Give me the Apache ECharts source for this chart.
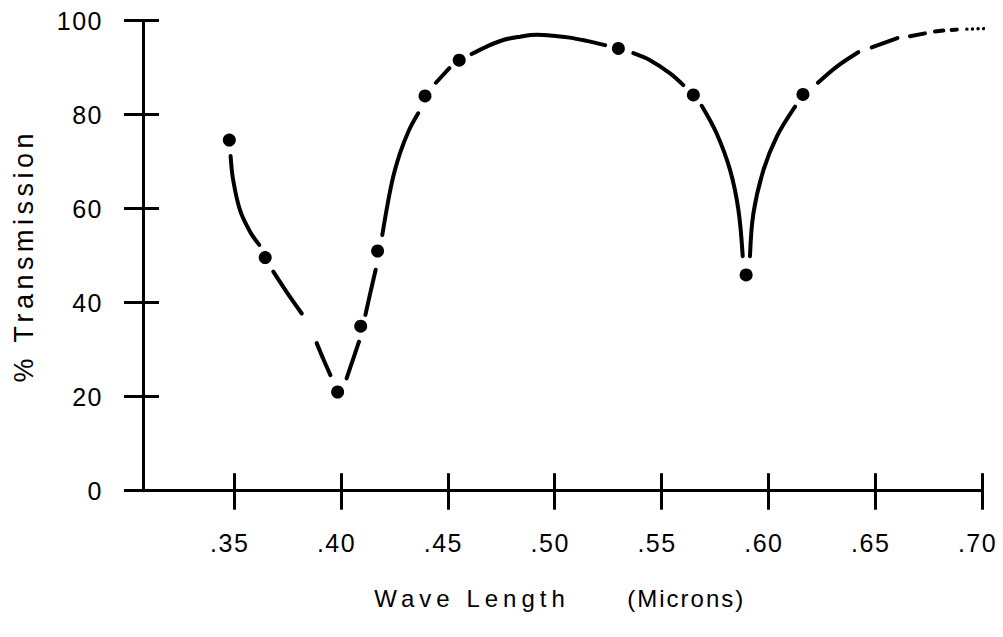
<!DOCTYPE html>
<html><head><meta charset="utf-8">
<script src="https://cdn.jsdelivr.net/npm/echarts@6/dist/echarts.min.js"></script>
<style>html,body{margin:0;padding:0;background:#fff}#chart{width:1003px;height:637px}</style>
</head><body><div id="chart"></div>
<script>
// ---- tick labels / axis text ----
const xTickValues = [0.35, 0.40, 0.45, 0.50, 0.55, 0.60, 0.65, 0.70];
const xTickLabels = ['.35', '.40', '.45', '.50', '.55', '.60', '.65', '.70'];
const yTickValues = [0, 20, 40, 60, 80, 100];
const yTickLabels = ['0', '20', '40', '60', '80', '100'];
const xAxisTitle = 'Wave Length';
const xAxisUnit = '(Microns)';
const yAxisName = '% Transmission';

// ---- measured points (dots) ----
const pointWavelength   = [0.3477, 0.3645, 0.3984, 0.4092, 0.4171, 0.4393, 0.4553, 0.5298, 0.5649, 0.5896, 0.6162];
const pointTransmission = [74.6,   49.6,   21.0,   35.0,   51.0,   84.0,   91.6,   94.1,   84.2,   45.9,   84.3];

// ---- drawn curve (null = gap in the pen stroke) ----
const curveWavelength = [
  0.3483, 0.3495, 0.3527, 0.3574, 0.3617, null,
  0.3683, 0.3748, 0.3816, null,
  0.3886, 0.3918, 0.3950, null,
  0.4026, 0.4055, 0.4084, null,
  0.4114, 0.4138, 0.4162, null,
  0.4193, 0.4237, 0.4276, 0.4318, 0.4361, null,
  0.4444, 0.4507, null,
  0.4611, 0.4682, 0.4759, 0.4838, 0.4916, 0.4993, 0.5071, 0.5150, 0.5236, null,
  0.5368, 0.5446, 0.5540, 0.5602, null,
  0.5688, 0.5758, 0.5821, 0.5860, 0.5880, null,
  0.5914, 0.5930, 0.5977, 0.6039, 0.6125, null,
  0.6232, 0.6322, 0.6421, null,
  0.6484, 0.6604, null,
  0.6663, 0.6733, null,
  0.6780, 0.6819, null,
  0.6858, 0.6882
];
const curveTransmission = [
  71.2, 66.1, 59.7, 55.1, 52.3, null,
  46.6, 42.1, 37.7, null,
  31.4, 27.9, 24.6, null,
  23.9, 27.8, 31.7, null,
  37.4, 42.3, 47.0, null,
  54.4, 65.4, 71.8, 76.7, 80.3, null,
  86.8, 89.9, null,
  92.9, 94.5, 95.9, 96.6, 97.0, 96.8, 96.4, 95.7, 94.8, null,
  93.1, 91.6, 88.8, 86.3, null,
  81.9, 76.0, 68.2, 59.7, 49.9, null,
  49.9, 59.0, 68.2, 75.3, 81.7, null,
  86.8, 90.3, 93.3, null,
  94.3, 96.3, null,
  96.7, 97.3, null,
  97.7, 97.9, null,
  98.0, 98.1
];
const tailWavelength   = [0.6929, 0.7058];
const tailTransmission = [98.2, 98.4];

// ---- build ----
const FONT = 'Liberation Sans';
const pair = (xs, ys) => xs.map((x, i) => (x == null ? [null, null] : [x, ys[i]]));
const xLabel = v => { const i = xTickValues.findIndex(t => Math.abs(t - v) < 1e-6); return i >= 0 ? xTickLabels[i] : ''; };
const yLabel = v => { const i = yTickValues.findIndex(t => Math.abs(t - v) < 1e-6); return i >= 0 ? yTickLabels[i] : ''; };

const X_MIN = 0.3073, X_MAX = 0.70;
const black = '#000';

const chart = echarts.init(document.getElementById('chart'), null, { renderer: 'svg' });
chart.setOption({
  animation: false,
  backgroundColor: '#fff',
  grid: { left: 143, right: 21, top: 20.7, bottom: 146.3 },
  xAxis: [
    {
      type: 'value', min: X_MIN, max: X_MAX, position: 'bottom',
      axisLine: { show: true, lineStyle: { color: black, width: 3 } },
      axisTick: { show: true, customValues: xTickValues, length: 19, lineStyle: { color: black, width: 3 } },
      axisLabel: { show: true, customValues: xTickValues, formatter: xLabel, margin: 40,
                   fontFamily: FONT, fontSize: 25, color: black, padding: [0, 9, 0, 0] },
      splitLine: { show: false },
      name: '{a|' + xAxisTitle + '}{b|' + xAxisUnit + '}', nameLocation: 'middle', nameGap: 96,
      nameTextStyle: {
        fontFamily: FONT, fontSize: 24, color: black,
        rich: {
          a: { fontFamily: FONT, fontSize: 24, color: black, padding: [0, 0, 0, 13] },
          b: { fontFamily: FONT, fontSize: 24, color: black, padding: [0, 0, 0, 94] }
        }
      }
    },
    {
      type: 'value', min: X_MIN, max: X_MAX, position: 'bottom',
      axisLine: { show: false },
      axisTick: { show: true, inside: true, customValues: xTickValues, length: 17.5, lineStyle: { color: black, width: 3 } },
      axisLabel: { show: false },
      splitLine: { show: false }
    }
  ],
  yAxis: [
    {
      type: 'value', min: 0, max: 100, interval: 20, position: 'left',
      axisLine: { show: true, lineStyle: { color: black, width: 3 } },
      axisTick: { show: true, length: 19, lineStyle: { color: black, width: 3 } },
      axisLabel: { show: true, formatter: yLabel, margin: 40, fontFamily: FONT, fontSize: 25, color: black,
                   padding: [7, 0, 0, 0] },
      splitLine: { show: false },
      name: yAxisName, nameLocation: 'middle', nameGap: 106,
      nameTextStyle: { fontFamily: FONT, fontSize: 27, color: black }
    },
    {
      type: 'value', min: 0, max: 100, interval: 20, position: 'left',
      axisLine: { show: false },
      axisTick: { show: true, inside: true, length: 16, lineStyle: { color: black, width: 3 } },
      axisLabel: { show: false },
      splitLine: { show: false }
    }
  ],
  series: [
    {
      type: 'line', xAxisIndex: 0, yAxisIndex: 0, clip: false,
      data: pair(curveWavelength, curveTransmission),
      smooth: 0.35, connectNulls: false, showSymbol: false, symbol: 'none',
      lineStyle: { color: black, width: 4, cap: 'round' }, z: 2
    },
    {
      type: 'line', xAxisIndex: 0, yAxisIndex: 0, clip: false,
      data: pair(tailWavelength, tailTransmission),
      showSymbol: false, symbol: 'none',
      lineStyle: { color: black, width: 3.4, cap: 'round', type: [0.1, 5.5] }, z: 2
    },
    {
      type: 'scatter', xAxisIndex: 0, yAxisIndex: 0,
      data: pair(pointWavelength, pointTransmission),
      symbol: 'circle', symbolSize: 13,
      itemStyle: { color: black, opacity: 1 }, z: 3
    }
  ]
});

function applySpacing() {
  document.querySelectorAll('#chart svg text').forEach(t => {
    const s = t.textContent;
    t.style.whiteSpace = 'pre';
    if (s === yAxisName) t.setAttribute('letter-spacing', '4.5');
    else if (s === xAxisTitle) t.setAttribute('letter-spacing', '5');
    else if (s === xAxisUnit) t.setAttribute('letter-spacing', '2');
    else t.setAttribute('letter-spacing', '1.5');
  });
}
applySpacing();
chart.on('finished', applySpacing);
setTimeout(applySpacing, 0);
</script>
</body></html>
